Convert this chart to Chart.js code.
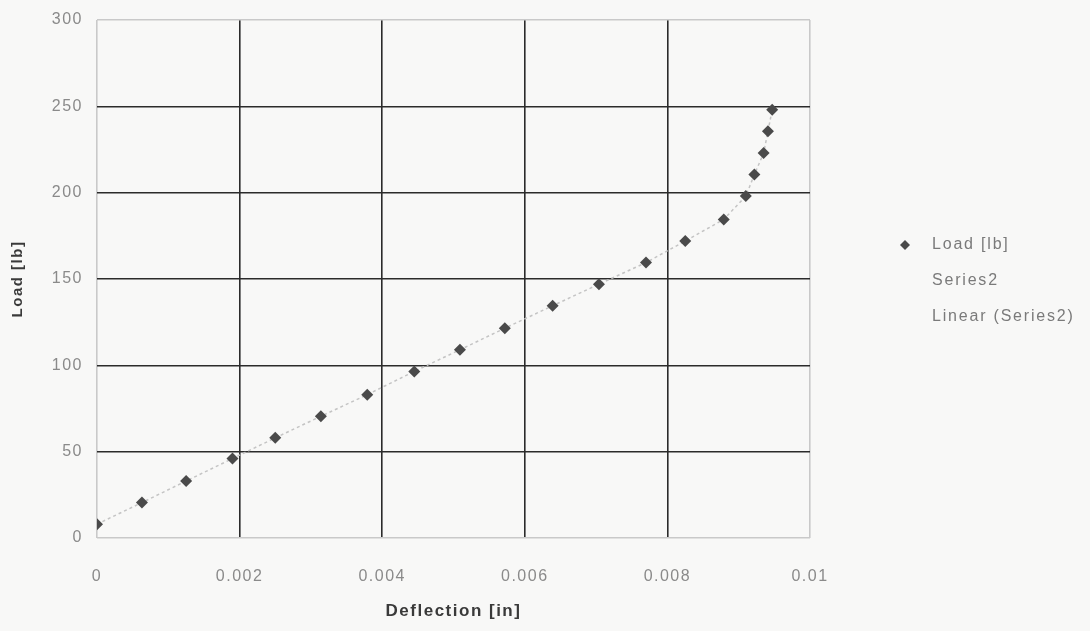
<!DOCTYPE html>
<html>
<head>
<meta charset="utf-8">
<script src="https://cdn.jsdelivr.net/npm/chart.js@4/dist/chart.umd.min.js"></script>
<style>
  html, body { margin: 0; padding: 0; background: #f8f8f7; }
  #wrap { width: 1090px; height: 631px; }
</style>
</head>
<body>
<div id="wrap"><canvas id="monGraphique" width="1090" height="631"></canvas></div>
<script>
// Données mesurées : flèche (in) et charge (lb)
const deflection = [0, 0.00063, 0.00125, 0.00190, 0.00250, 0.00314, 0.00379, 0.00445, 0.00509, 0.00572,
                    0.00639, 0.00704, 0.00770, 0.00825, 0.00879, 0.00910, 0.00922, 0.00935, 0.00941, 0.00947];
const load = [8, 20.5, 33, 46, 58, 70.5, 83, 96.5, 109, 121.5,
              134.5, 147, 159.5, 172, 184.5, 198, 210.5, 223, 235.5, 248];
const seriesNames = ['Load [lb]', 'Series2', 'Linear (Series2)'];
const xTicks = [0, 0.002, 0.004, 0.006, 0.008, 0.01];
const yTicks = [0, 50, 100, 150, 200, 250, 300];

const points = deflection.map((d, i) => ({ x: d, y: load[i] }));

const gris = '#8a8a8a';
const police = 'Liberation Sans, Arial, sans-serif';

// espacement des lettres (texte un peu étiré)
const espacement = {
  id: 'espacement',
  beforeUpdate(chart) { chart.ctx.letterSpacing = '1.5px'; },
  beforeDraw(chart) { chart.ctx.letterSpacing = '1.5px'; }
};

// légende dessinée à droite de la zone de tracé
const legendeDroite = {
  id: 'legendeDroite',
  afterDraw(chart) {
    const ctx = chart.ctx;
    const x0 = chart.chartArea.right + 95;
    const y0 = 245;
    ctx.save();
    ctx.font = '16px ' + police;
    ctx.letterSpacing = '1.8px';
    ctx.fillStyle = '#7a7a7a';
    ctx.textBaseline = 'middle';
    chart.data.datasets.forEach((ds, i) => {
      const y = y0 + i * 36;
      if (ds.pointRadius > 0) {
        ctx.fillStyle = ds.pointBackgroundColor;
        ctx.beginPath();
        ctx.moveTo(x0, y - 5); ctx.lineTo(x0 + 5, y); ctx.lineTo(x0, y + 5); ctx.lineTo(x0 - 5, y);
        ctx.closePath(); ctx.fill();
        ctx.fillStyle = '#7a7a7a';
      }
      ctx.fillText(ds.label, x0 + 27, y);
    });
    ctx.restore();
  }
};

const couleurGrille = (ctx, max) => {
  const v = ctx.tick ? ctx.tick.value : null;
  if (v === 0 || v === max) return '#c9c9c9';
  return '#2b2b2b';
};

new Chart(document.getElementById('monGraphique').getContext('2d'), {
  type: 'scatter',
  data: {
    datasets: [
      {
        label: seriesNames[0],
        data: points,
        showLine: true,
        borderColor: '#c4c4c4',
        borderWidth: 1.5,
        borderDash: [3, 3],
        pointStyle: 'rectRot',
        pointRadius: 6,
        pointBackgroundColor: '#4a4a4a',
        pointBorderColor: '#4a4a4a',
        pointBorderWidth: 0
      },
      { label: seriesNames[1], data: [], pointRadius: 0, showLine: false },
      { label: seriesNames[2], data: [], pointRadius: 0, showLine: false }
    ]
  },
  options: {
    responsive: false,
    animation: false,
    layout: { padding: { top: 20, right: 280, left: 0, bottom: 0 } },
    plugins: { legend: { display: false }, tooltip: { enabled: false } },
    scales: {
      x: {
        type: 'linear',
        min: 0, max: 0.01,
        afterBuildTicks: s => { s.ticks = xTicks.map(v => ({ value: v })); },
        afterFit: s => { s.height = 93; s.paddingRight = 0; },
        grid: { color: c => couleurGrille(c, 0.01), lineWidth: 1.6, drawTicks: false },
        border: { display: false },
        ticks: {
          padding: 29,
          color: gris,
          font: { family: police, size: 16 },
          callback: v => String(v)
        },
        title: {
          display: true,
          text: 'Deflection [in]',
          color: '#3a3a3a',
          font: { family: police, size: 17, weight: 'bold' },
          padding: { top: 4, bottom: 9 }
        }
      },
      y: {
        min: 0, max: 300,
        afterBuildTicks: s => { s.ticks = yTicks.map(v => ({ value: v })); },
        afterFit: s => { s.width = 97; s.paddingTop = 0; },
        grid: { color: c => couleurGrille(c, 300), lineWidth: 1.6, drawTicks: false },
        border: { display: false },
        ticks: {
          padding: 14,
          color: gris,
          font: { family: police, size: 16 }
        },
        title: {
          display: true,
          text: 'Load [lb]',
          color: '#3a3a3a',
          font: { family: police, size: 15, weight: 'bold' },
          padding: { top: 9, bottom: 5 }
        }
      }
    }
  },
  plugins: [espacement, legendeDroite]
});
</script>
</body>
</html>
